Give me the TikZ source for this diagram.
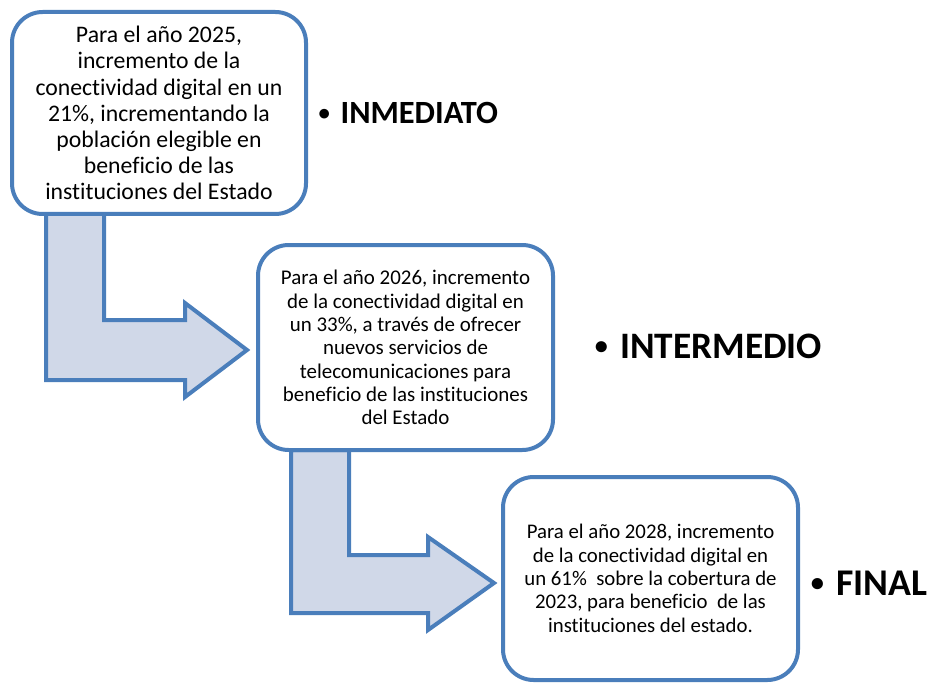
\documentclass[tikz,border=0pt]{standalone}
\usepackage{fontspec}
\setmainfont{Carlito}[Ligatures=NoCommon]
\definecolor{bordeblue}{HTML}{4A7EBB}
\definecolor{flechafill}{HTML}{D0D8E8}
\newcommand{\vineta}{\makebox[0.72em][l]{\hspace{0.04em}\raisebox{0.1em}{\scalebox{0.7}{•}}}}
\tikzset{
  cajabox/.style={draw=bordeblue, line width=3pt, fill=white, rounded corners=23pt, align=center, inner sep=0pt, text=black},
  flechabox/.style={draw=bordeblue, line width=3pt, fill=flechafill, line join=miter},
  etiqueta/.style={anchor=base west, inner sep=0pt, text=black}
}
\begin{document}
\begin{tikzpicture}[x=0.75pt, y=-0.75pt]
\useasboundingbox (0,0) rectangle (927,684);
% arrows
\draw[flechabox] (46,214) -- (46,380) -- (185,380) -- (185,397) -- (247,350) -- (185,303) -- (185,320) -- (104,320) -- (104,214) -- cycle;
\draw[flechabox] (291,450) -- (291,613) -- (428,613) -- (428,630) -- (494,583) -- (428,537) -- (428,555) -- (349,555) -- (349,450) -- cycle;
% boxes
\node[cajabox, minimum width=220.5pt, minimum height=151.5pt, font=\fontsize{17.8}{19.6}\selectfont] (b1) at (159,113)
 {Para el año 2025,\\incremento de la\\conectividad digital en un\\21\%, incrementando la\\población elegible en\\beneficio de las\\instituciones del Estado};
\node[cajabox, minimum width=221.25pt, minimum height=153.75pt, font=\fontsize{15.7}{17.5}\selectfont] (b2) at (405.5,347.5)
 {Para el año 2026, incremento\\de la conectividad digital en\\un 33\%, a través de ofrecer\\nuevos servicios de\\telecomunicaciones para\\beneficio de las instituciones\\del Estado};
\node[cajabox, minimum width=221.25pt, minimum height=152.25pt, font=\fontsize{15.6}{17.5}\selectfont] (b3) at (650.5,578.5)
 {Para el año 2028, incremento\\de la conectividad digital en\\un 61\%\ \ sobre la cobertura de\\2023, para beneficio\ \ de las\\instituciones del estado.};
% labels
\node[etiqueta, font=\fontsize{24.3}{29}\selectfont\bfseries] (l1) at (317,124) {\vineta INMEDIATO};
\node[etiqueta, font=\fontsize{28}{33}\selectfont\bfseries] (l2) at (593,358) {\vineta INTERMEDIO};
\node[etiqueta, font=\fontsize{28.3}{33}\selectfont\bfseries] (l3) at (809,595) {\vineta FINAL};
\end{tikzpicture}
\end{document}
